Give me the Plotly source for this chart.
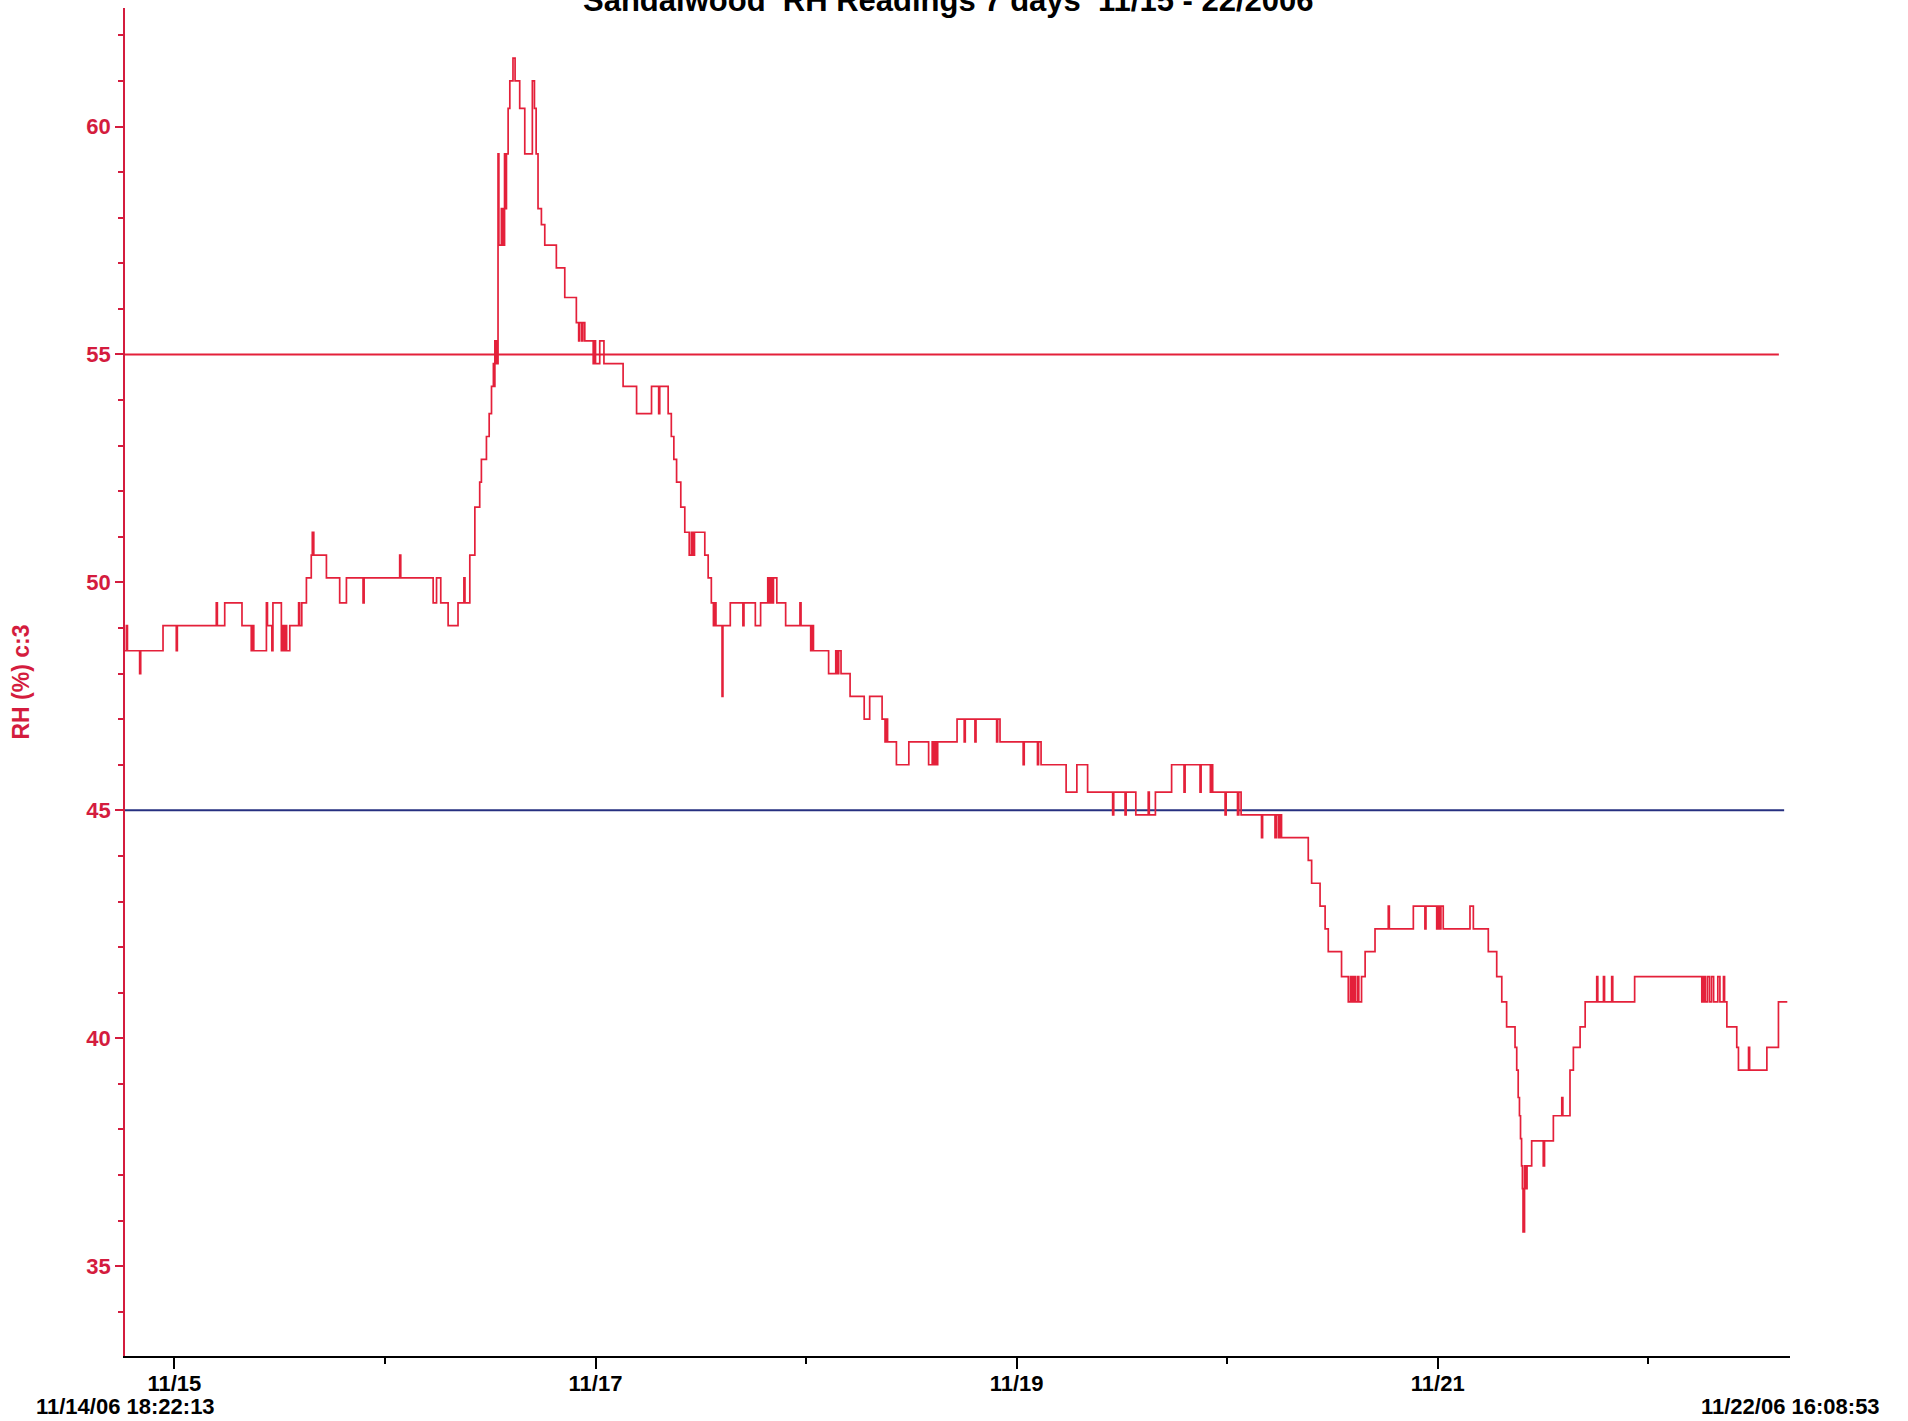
import pandas as pd
import plotly.graph_objects as go

TITLE = "Sandalwood  RH Readings 7 days  11/15 - 22/2006"
START = "2006-11-14 18:22:13"
END = "2006-11-22 16:08:53"
DAY0 = "2006-11-15 00:00:00"
START_LABEL = "11/14/06 18:22:13"
END_LABEL = "11/22/06 16:08:53"
Y_TITLE = "RH (%) c:3"

# readings: days since 11/15 00:00 and RH (%) – value holds until next change
days_1 = [-0.23457, -0.228, -0.223, -0.165, -0.160, -0.054, 0.009, 0.014, 0.199, 0.204,
          0.239, 0.321, 0.365, 0.372, 0.377, 0.437, 0.442, 0.463, 0.468, 0.508,
          0.515, 0.520, 0.528, 0.533, 0.548, 0.590, 0.595, 0.605, 0.627, 0.650,
          0.655, 0.662, 0.722, 0.785, 0.817, 0.896, 0.901, 1.070, 1.075, 1.229,
          1.245, 1.265, 1.300, 1.347, 1.375, 1.380]
rh_1 = [48.5, 49.05, 48.5, 48.0, 48.5, 49.05, 48.5, 49.05, 49.55, 49.05,
        49.55, 49.05, 48.5, 49.05, 48.5, 49.55, 49.05, 48.5, 49.55, 48.5,
        49.05, 48.5, 49.05, 48.5, 49.05, 49.55, 49.05, 49.55, 50.1, 50.6,
        51.1, 50.6, 50.1, 49.55, 50.1, 49.55, 50.1, 50.6, 50.1, 49.55,
        50.1, 49.55, 49.05, 49.55, 50.1, 49.55]

days_2 = [1.403, 1.427, 1.450, 1.458, 1.482, 1.495, 1.506, 1.515, 1.518, 1.522,
          1.530, 1.537, 1.541, 1.553, 1.560, 1.568, 1.572, 1.577, 1.585, 1.593,
          1.608, 1.618, 1.640, 1.664, 1.700, 1.710, 1.718, 1.727, 1.743, 1.759,
          1.814, 1.854, 1.909, 1.920, 1.925, 1.935, 1.940, 1.949, 1.989, 1.995,
          2.000, 2.020, 2.040, 2.131, 2.195, 2.266, 2.300, 2.305, 2.345, 2.360,
          2.372, 2.385, 2.405, 2.424, 2.445, 2.455, 2.462, 2.470, 2.519, 2.535]
rh_2 = [50.6, 51.65, 52.2, 52.7, 53.2, 53.7, 54.3, 54.8, 54.3, 55.3,
        54.8, 59.4, 57.4, 58.2, 57.4, 59.4, 58.2, 59.4, 60.4, 61.0,
        61.5, 61.0, 60.4, 59.4, 61.0, 60.4, 59.4, 58.2, 57.85, 57.4,
        56.9, 56.25, 55.7, 55.3, 55.7, 55.3, 55.7, 55.3, 54.8, 55.3,
        54.8, 55.3, 54.8, 54.3, 53.7, 54.3, 53.7, 54.3, 53.7, 53.2,
        52.7, 52.2, 51.65, 51.1, 50.6, 51.1, 50.6, 51.1, 50.6, 50.1]

days_3 = [2.550, 2.560, 2.567, 2.572, 2.601, 2.605, 2.640, 2.700, 2.705, 2.759,
          2.784, 2.818, 2.825, 2.832, 2.840, 2.845, 2.861, 2.903, 2.971, 2.976,
          3.022, 3.030, 3.035, 3.107, 3.141, 3.148, 3.155, 3.166, 3.209, 3.276,
          3.302, 3.361, 3.375, 3.380, 3.387, 3.429, 3.488, 3.582, 3.599, 3.605,
          3.612, 3.618, 3.625, 3.717, 3.751, 3.756, 3.802, 3.807, 3.905, 3.910,
          3.921, 4.031, 4.036, 4.099, 4.104, 4.116]
rh_3 = [49.55, 49.05, 49.55, 49.05, 47.5, 49.05, 49.55, 49.05, 49.55, 49.05,
        49.55, 50.1, 49.55, 50.1, 49.55, 50.1, 49.55, 49.05, 49.55, 49.05,
        48.5, 49.05, 48.5, 48.0, 48.5, 48.0, 48.5, 48.0, 47.5, 47.0,
        47.5, 47.0, 46.5, 47.0, 46.5, 46.0, 46.5, 46.0, 46.5, 46.0,
        46.5, 46.0, 46.5, 47.0, 46.5, 47.0, 46.5, 47.0, 46.5, 47.0,
        46.5, 46.0, 46.5, 46.0, 46.5, 46.0]

days_4 = [4.235, 4.286, 4.337, 4.456, 4.461, 4.515, 4.520, 4.566, 4.625, 4.630,
          4.659, 4.736, 4.795, 4.800, 4.871, 4.876, 4.920, 4.925, 4.931, 4.990,
          4.995, 5.049, 5.055, 5.066, 5.163, 5.168, 5.227, 5.235, 5.245, 5.250,
          5.258, 5.385, 5.401, 5.441, 5.465, 5.480, 5.543, 5.575, 5.585, 5.592,
          5.600, 5.608, 5.618, 5.625, 5.638, 5.655, 5.702, 5.765, 5.770, 5.884,
          5.939, 5.944, 5.995, 6.000, 6.008, 6.015, 6.026]
rh_4 = [45.4, 46.0, 45.4, 44.9, 45.4, 44.9, 45.4, 44.9, 45.4, 44.9,
        45.4, 46.0, 45.4, 46.0, 45.4, 46.0, 45.4, 46.0, 45.4, 44.9,
        45.4, 44.9, 45.4, 44.9, 44.4, 44.9, 44.4, 44.9, 44.4, 44.9,
        44.4, 43.9, 43.4, 42.9, 42.4, 41.9, 41.35, 40.8, 41.35, 40.8,
        41.35, 40.8, 41.35, 40.8, 41.35, 41.9, 42.4, 42.9, 42.4, 42.9,
        42.4, 42.9, 42.4, 42.9, 42.4, 42.9, 42.4]

days_5 = [6.153, 6.169, 6.240, 6.280, 6.304, 6.327, 6.367, 6.375, 6.382, 6.388,
          6.393, 6.398, 6.402, 6.405, 6.412, 6.418, 6.424, 6.446, 6.501, 6.507,
          6.549, 6.589, 6.594, 6.628, 6.644, 6.676, 6.700, 6.755, 6.760, 6.787,
          6.792, 6.826, 6.831, 6.935, 7.254, 7.262, 7.270, 7.280, 7.290, 7.300,
          7.310, 7.330, 7.340, 7.357, 7.362, 7.373, 7.420, 7.428, 7.476, 7.481,
          7.563, 7.618, 7.660]
rh_5 = [42.9, 42.4, 41.9, 41.35, 40.8, 40.25, 39.8, 39.3, 38.7, 38.3,
        37.8, 37.2, 36.7, 35.75, 37.2, 36.7, 37.2, 37.75, 37.2, 37.75,
        38.3, 38.7, 38.3, 39.3, 39.8, 40.25, 40.8, 41.35, 40.8, 41.35,
        40.8, 41.35, 40.8, 41.35, 40.8, 41.35, 40.8, 41.35, 40.8, 41.35,
        40.8, 41.35, 40.8, 41.35, 40.8, 40.25, 39.8, 39.3, 39.8, 39.3,
        39.8, 40.8, 40.8]

limit_values = [55, 45]
limit_end_days = [7.62, 7.645]

RED = "rgb(228,32,58)"
AXIS_RED = "rgb(212,28,62)"
BLUE = "rgb(38,48,128)"
FONT = "Liberation Sans, Arial, sans-serif"

days = days_1 + days_2 + days_3 + days_4 + days_5
rh = rh_1 + rh_2 + rh_3 + rh_4 + rh_5
t0 = pd.Timestamp(DAY0)
times = t0 + pd.to_timedelta(days, unit="D")

fig = go.Figure()
for val, end_day, col in zip(limit_values, limit_end_days, [RED, BLUE]):
    fig.add_trace(go.Scatter(
        x=[pd.Timestamp(START), t0 + pd.Timedelta(days=end_day)], y=[val, val],
        mode="lines", line=dict(color=col, width=2), hoverinfo="skip"))

fig.add_trace(go.Scatter(x=times, y=rh, mode="lines", line=dict(color=RED, width=1.7, shape="hv"),
                         name="RH (%) c:3"))

fig.update_layout(
    width=1908, height=1421,
    margin=dict(l=125, r=118, t=8, b=65),
    plot_bgcolor="white", paper_bgcolor="white",
    showlegend=False,
    title=dict(text=TITLE, x=0.497, xanchor="center", xref="container", y=1.0, yanchor="middle",
               yref="container",
               font=dict(family=FONT, size=31, color="black", weight="bold")),
    xaxis=dict(type="date", range=[START, END], showline=True, linecolor="black", linewidth=2,
               ticks="outside", ticklen=11, tickwidth=1.5, tickcolor="black",
               tick0=DAY0, dtick=2 * 86400000, tickformat="%m/%d", ticklabelstandoff=-4,
               tickfont=dict(family=FONT, size=22, color="black", weight="bold"),
               minor=dict(tick0=DAY0, dtick=86400000, ticks="outside", ticklen=6, tickwidth=1.5,
                          tickcolor="black", showgrid=False),
               showgrid=False, zeroline=False),
    yaxis=dict(range=[33.03, 62.6], showline=True, linecolor=AXIS_RED, linewidth=1.5,
               ticks="outside", ticklen=8, tickwidth=1.5, tickcolor=AXIS_RED,
               tick0=0, dtick=5,
               tickfont=dict(family=FONT, size=22, color=AXIS_RED, weight="bold"),
               minor=dict(dtick=1, ticks="outside", ticklen=5, tickwidth=1.5, tickcolor=AXIS_RED,
                          showgrid=False),
               title=dict(text=Y_TITLE, standoff=50,
                          font=dict(family=FONT, size=23, color=AXIS_RED, weight="bold")),
               showgrid=False, zeroline=False),
    annotations=[
        dict(text=START_LABEL, xref="paper", yref="paper", x=0.0, y=-0.0375, xanchor="center",
             yanchor="middle", showarrow=False,
             font=dict(family=FONT, size=22, color="black", weight="bold")),
        dict(text=END_LABEL, xref="paper", yref="paper", x=1.0, y=-0.0375, xanchor="center",
             yanchor="middle", showarrow=False,
             font=dict(family=FONT, size=22, color="black", weight="bold")),
    ],
)

fig.write_html("out.html", config={"displayModeBar": False},
               post_script="document.body.style.margin='0px';")
